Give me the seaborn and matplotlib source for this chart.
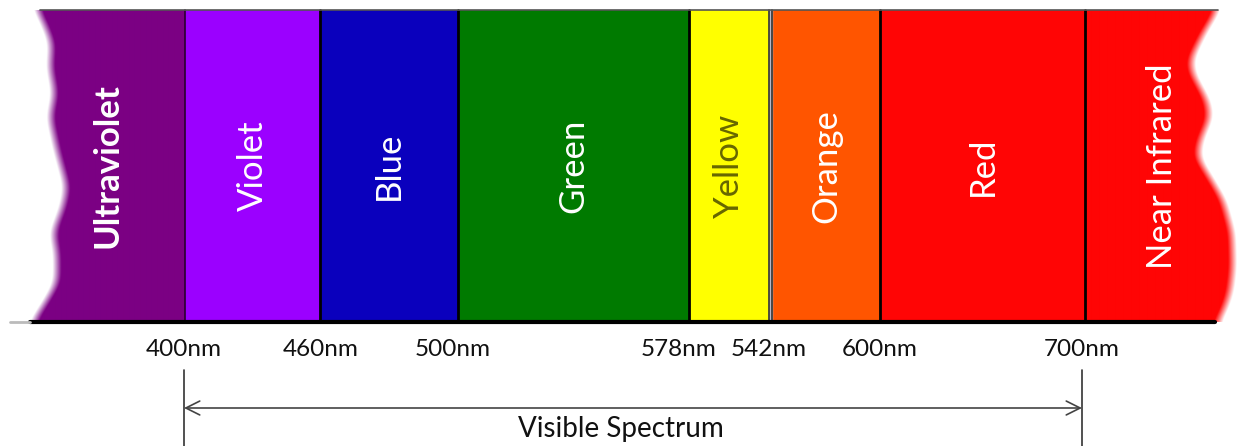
import matplotlib.pyplot as plt
import numpy as np
import seaborn as sns

sns.set_theme(style="white")
plt.rcParams['font.family'] = ['Lato', 'DejaVu Sans']

# bands of the spectrum (diagram units along the strip, left/right edge)
bands = ["Ultraviolet", "Violet", "Blue", "Green", "Yellow", "Orange", "Red", "Near Infrared"]
band_left = [40, 185, 320, 458, 689, 772, 880, 1085]
band_right = [185, 320, 458, 689, 769, 880, 1085, 1220]
band_colors = ["#7b0083", "#9b00ff", "#0a00bd", "#007a00", "#ffff00", "#ff5500", "#ff0505", "#ff0505"]
text_colors = ["white", "white", "white", "white", "#666600", "white", "white", "white"]

# wavelength marks under the strip
nm_labels = ["400nm", "460nm", "500nm", "578nm", "542nm", "600nm", "700nm"]
nm_pos = [184, 321, 453, 679, 769, 880, 1082]

visible_from, visible_to = 400, 700

top, bottom = 10, 322

fig = plt.figure(figsize=(12.48, 4.46), dpi=100)
ax = fig.add_axes([0, 0, 1, 1])
ax.set_xlim(0, 1248)
ax.set_ylim(446, 0)
ax.axis("off")

# plain bands
inner = range(1, len(bands) - 1)
ax.bar([band_left[i] for i in inner], bottom - top,
       width=[band_right[i] - band_left[i] for i in inner],
       bottom=top, align="edge", color=[band_colors[i] for i in inner],
       linewidth=0, zorder=1)


def wavy_band(i, xs, ys, left_side):
    # soft wavy outer edge for the invisible ranges
    x0 = 15 if left_side else band_left[i]
    x1 = band_right[i] if left_side else 1245
    gx = np.linspace(x0, x1, 500)
    gy = np.linspace(top, bottom, 312)
    edge_1d = np.interp(gy, ys, xs)
    k = np.exp(-0.5 * (np.arange(-20, 21) / 7.0) ** 2)
    k /= k.sum()
    padded = np.pad(edge_1d, 20, mode="edge")
    edge_1d = np.convolve(padded, k, mode="same")[20:-20]
    X, Y = np.meshgrid(gx, gy)
    edge = np.repeat(edge_1d[:, None], len(gx), axis=1)
    fade = 9.0
    if left_side:
        a = np.clip((X - edge) / fade + 0.5, 0, 1)
    else:
        a = np.clip((edge - X) / fade + 0.5, 0, 1)
    rgb = np.array(plt.matplotlib.colors.to_rgb(band_colors[i]))
    img = np.zeros(X.shape + (4,))
    img[..., :3] = rgb
    img[..., 3] = a
    ax.imshow(img, extent=(x0, x1, bottom, top), aspect="auto",
              interpolation="bilinear", zorder=1)


wavy_band(0, [37, 43, 52, 50, 55, 50, 57, 67, 63, 53, 57, 57, 43, 33],
          [10, 20, 43, 67, 93, 117, 150, 187, 207, 233, 253, 283, 307, 322], True)
wavy_band(7, [1217, 1203, 1190, 1192, 1207, 1210, 1200, 1197, 1207, 1223,
              1232, 1233, 1230, 1223, 1217],
          [10, 33, 60, 73, 100, 117, 140, 157, 173, 200, 233, 267, 293, 313, 322], False)

# separators
for x in [320, 458, 689, 880, 1085]:
    ax.plot([x, x], [top, bottom], color="black", lw=2, zorder=2)
ax.plot([185, 185], [top, bottom], color="#2a0030", lw=1.2, zorder=2)
ax.fill_between([769, 772], top, bottom, color="#b8b8c8", zorder=2)
ax.plot([769, 769], [top, bottom], color="#333333", lw=1.2, zorder=2)
ax.plot([772, 772], [top, bottom], color="#333333", lw=1.2, zorder=2)

# outline
ax.plot([40, 1218], [top, top], color="#555555", lw=1.2, zorder=3)
ax.plot([30, 1215], [bottom, bottom], color="black", lw=3, zorder=3)
ax.plot([10, 30], [bottom, bottom], color="#bbbbbb", lw=2, zorder=3)

# band names
for i, name in enumerate(bands):
    xc = (band_left[i] + band_right[i]) / 2
    if i == 0:
        xc = 108
    if i == len(bands) - 1:
        xc = 1162
    ax.text(xc, 166, name, rotation=90, ha="center", va="center",
            color=text_colors[i], fontsize=25,
            fontweight="bold" if i == 0 else "normal", zorder=4)

# wavelength labels
for lab, x in zip(nm_labels, nm_pos):
    ax.text(x, 349, lab, ha="center", va="center", fontsize=17.5, color="#111111")

# visible range arrow
x_from = nm_pos[nm_labels.index(f"{visible_from}nm")]
x_to = nm_pos[nm_labels.index(f"{visible_to}nm")]
for x in [x_from, x_to]:
    ax.plot([x, x], [370, 446], color="#333333", lw=1.2)
ax.annotate("", xy=(x_to, 408), xytext=(x_from, 408),
            arrowprops=dict(arrowstyle="<->", color="#444444", lw=1.2,
                            mutation_scale=25, shrinkA=0, shrinkB=0))
ax.text((x_from + x_to) / 2 - 12, 429, "Visible Spectrum", ha="center", va="center",
        fontsize=20, color="#111111")

fig.savefig("out.png", dpi=100)
